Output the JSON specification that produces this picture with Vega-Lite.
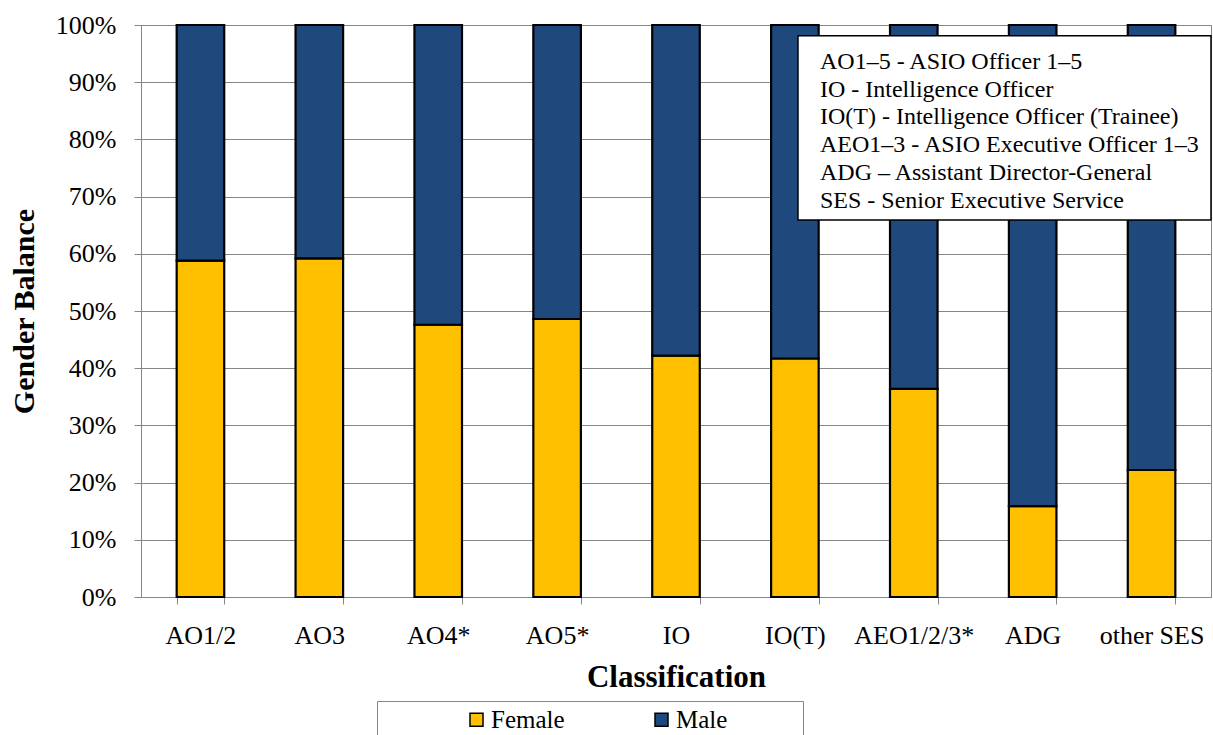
{
  "$schema": "https://vega.github.io/schema/vega-lite/v6.json",
  "width": 1070,
  "height": 572,
  "autosize": {"type": "none"},
  "padding": {"left": 141, "top": 25, "right": 2, "bottom": 138},
  "background": "white",
  "config": {
    "font": "Liberation Serif",
    "view": {"stroke": "#868686", "strokeWidth": 1}
  },
  "layer": [
    {
      "data": {
        "values": [
          {"classification": "AO1/2", "gender": "Female", "share": 0.588},
          {"classification": "AO1/2", "gender": "Male", "share": 0.412},
          {"classification": "AO3", "gender": "Female", "share": 0.592},
          {"classification": "AO3", "gender": "Male", "share": 0.408},
          {"classification": "AO4*", "gender": "Female", "share": 0.476},
          {"classification": "AO4*", "gender": "Male", "share": 0.524},
          {"classification": "AO5*", "gender": "Female", "share": 0.486},
          {"classification": "AO5*", "gender": "Male", "share": 0.514},
          {"classification": "IO", "gender": "Female", "share": 0.422},
          {"classification": "IO", "gender": "Male", "share": 0.578},
          {"classification": "IO(T)", "gender": "Female", "share": 0.417},
          {"classification": "IO(T)", "gender": "Male", "share": 0.583},
          {"classification": "AEO1/2/3*", "gender": "Female", "share": 0.364},
          {"classification": "AEO1/2/3*", "gender": "Male", "share": 0.636},
          {"classification": "ADG", "gender": "Female", "share": 0.159},
          {"classification": "ADG", "gender": "Male", "share": 0.841},
          {"classification": "other SES", "gender": "Female", "share": 0.222},
          {"classification": "other SES", "gender": "Male", "share": 0.778}
        ]
      },
      "mark": {"type": "bar", "stroke": "black", "strokeWidth": 2.2},
      "encoding": {
        "x": {
          "field": "classification",
          "type": "nominal",
          "sort": ["AO1/2", "AO3", "AO4*", "AO5*", "IO", "IO(T)", "AEO1/2/3*", "ADG", "other SES"],
          "scale": {"paddingInner": 0.6, "paddingOuter": 0.3},
          "axis": {
            "title": "Classification",
            "labelAngle": 0,
            "labelFontSize": 26,
            "labelColor": "black",
            "tickBand": "extent",
            "tickSize": 7,
            "tickColor": "#868686",
            "domainColor": "#868686",
            "labelPadding": 18,
            "titleFontSize": 31,
            "titleFontWeight": "bold",
            "titleColor": "black",
            "titlePadding": 14,
            "grid": false
          }
        },
        "y": {
          "field": "share",
          "type": "quantitative",
          "stack": "zero",
          "scale": {"domain": [0, 1], "nice": false},
          "axis": {
            "title": "Gender Balance",
            "format": ".0%",
            "values": [0, 0.1, 0.2, 0.3, 0.4, 0.5, 0.6, 0.7, 0.8, 0.9, 1],
            "labelFontSize": 26,
            "labelColor": "black",
            "tickSize": 7,
            "tickColor": "#868686",
            "domainColor": "#868686",
            "gridColor": "#868686",
            "labelPadding": 18,
            "titleFontSize": 30,
            "titleFontWeight": "bold",
            "titleColor": "black",
            "titlePadding": 16
          }
        },
        "color": {
          "field": "gender",
          "type": "nominal",
          "scale": {"domain": ["Female", "Male"], "range": ["#FFC000", "#1F497D"]},
          "legend": {
            "orient": "none",
            "legendX": 236,
            "legendY": 676,
            "direction": "horizontal",
            "title": "\u200b\u00a0\u00a0\u00a0\u00a0\u00a0\u00a0\u00a0\u00a0\u00a0\u00a0\u00a0\u00a0\u200b",
            "titleOrient": "left",
            "titleFontSize": 25,
            "titlePadding": 6,
            "labelFontSize": 25,
            "labelColor": "black",
            "symbolType": "square",
            "symbolSize": 169,
            "symbolStrokeColor": "black",
            "symbolStrokeWidth": 1.5,
            "labelOffset": 2,
            "columnPadding": 84,
            "strokeColor": "#868686",
            "fillColor": "white",
            "padding": 6,
            "labelExpr": "datum.label == 'Male' ? 'Male\u00a0\u00a0\u00a0\u00a0\u00a0\u00a0\u00a0\u00a0\u00a0\u00a0\u00a0\u200b' : datum.label"
          }
        },
        "order": {"field": "gender", "sort": "ascending"}
      }
    },
    {
      "data": {"values": [{}]},
      "mark": {"type": "rect", "fill": "white", "stroke": "black", "strokeWidth": 1.5},
      "encoding": {
        "x": {"datum": 5.526, "type": "quantitative", "scale": {"domain": [0, 9], "nice": false, "zero": false}, "axis": null},
        "x2": {"datum": 9},
        "y": {"datum": 0.981, "type": "quantitative"},
        "y2": {"datum": 0.659}
      }
    },
    {
      "data": {"values": [{}]},
      "mark": {"type": "text", "align": "left", "baseline": "alphabetic", "fontSize": 24, "lineHeight": 27.7, "color": "black"},
      "encoding": {
        "x": {"datum": 5.711, "type": "quantitative", "scale": {"domain": [0, 9], "nice": false, "zero": false}, "axis": null},
        "y": {"datum": 0.923, "type": "quantitative"},
        "text": {"value": ["AO1–5 - ASIO Officer 1–5", "IO - Intelligence Officer", "IO(T) - Intelligence Officer (Trainee)", "AEO1–3 - ASIO Executive Officer 1–3", "ADG – Assistant Director-General", "SES - Senior Executive Service"]}
      }
    }
  ],
  "resolve": {"scale": {"x": "independent"}}
}
